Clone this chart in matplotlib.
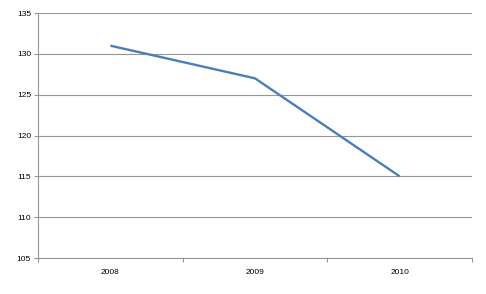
import matplotlib
matplotlib.use("Agg")
import matplotlib.pyplot as plt

years = ["2008", "2009", "2010"]
values = [131, 127, 115]
yticks = [105, 110, 115, 120, 125, 130, 135]

fig = plt.figure(figsize=(4.86, 2.94), dpi=100)
ax = fig.add_axes([38/486, 36/294, 434/486, 245/294])
x = list(range(len(years)))
ax.plot(x, values, color="#4a7ebb", linewidth=1.7, solid_capstyle="butt")
ax.set_xlim(-0.5, len(years) - 0.5)
ax.set_ylim(105, 135)
ax.set_yticks(yticks)
ax.set_yticklabels([str(v) for v in yticks], fontsize=6, family="Liberation Sans")
ax.set_xticks(x)
ax.set_xticklabels(years, fontsize=6, family="Liberation Sans")
ax.set_xticks([i - 0.5 for i in range(len(years) + 1)], minor=True)
ax.tick_params(axis="x", which="major", length=0, pad=8)
ax.tick_params(axis="x", which="minor", length=3, color="#969696", width=0.8)
ax.tick_params(axis="y", length=3, color="#969696", width=0.8, pad=2)
ax.grid(axis="y", color="#969696", linewidth=0.8)
ax.set_axisbelow(True)
for s in ["top", "right"]:
    ax.spines[s].set_visible(False)
for s in ["left", "bottom"]:
    ax.spines[s].set_color("#969696")
    ax.spines[s].set_linewidth(0.8)
fig.savefig("out.png", dpi=100)
